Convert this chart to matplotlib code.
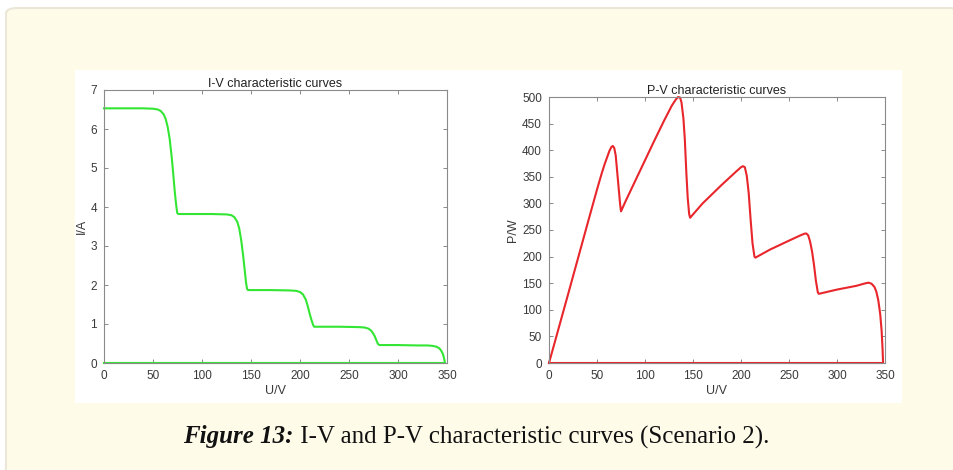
import matplotlib
matplotlib.use("Agg")
import matplotlib.pyplot as plt
from matplotlib.patches import FancyBboxPatch, Rectangle

# ---- data ----
u_iv = [0, 20, 40, 50, 55, 58, 61, 63, 65, 67, 69, 70.5, 72, 73, 74, 74.8, 76, 90, 110,
        125, 130, 133, 136, 138, 140, 142, 143.5, 145, 146, 147, 150, 170, 190, 196, 200,
        203, 206, 208, 210, 212, 213.5, 214.5, 216, 240, 260, 266, 270, 273, 276, 278,
        279.5, 281, 300, 320, 330, 335, 339, 342, 344, 346, 347, 348, 0]
i_iv = [6.53, 6.53, 6.53, 6.52, 6.50, 6.46, 6.37, 6.25, 6.05, 5.75, 5.3, 4.9, 4.45, 4.2,
        3.98, 3.84, 3.82, 3.82, 3.82, 3.81, 3.79, 3.74, 3.62, 3.45, 3.15, 2.75, 2.4, 2.05,
        1.9, 1.87, 1.87, 1.87, 1.86, 1.85, 1.82, 1.76, 1.62, 1.45, 1.25, 1.08, 0.97, 0.93,
        0.93, 0.93, 0.92, 0.91, 0.88, 0.82, 0.70, 0.58, 0.49, 0.46, 0.46, 0.45, 0.45, 0.44,
        0.42, 0.38, 0.32, 0.22, 0.12, 0.0, 0.0]

u_pv = [0, 20, 40, 50, 55, 58, 61, 63, 65, 66.5, 68, 69.5, 71, 72.5, 74, 75, 80, 90, 100,
        110, 120, 128, 132, 134.5, 136.5, 138, 140, 141.5, 143, 144.5, 146, 147, 160, 180,
        195, 200, 202, 204, 206, 208, 210, 212, 214, 215, 230, 250, 262, 266, 268, 270, 272,
        274, 276, 278, 280, 281, 300, 320, 330, 333, 336, 339, 341, 343, 345, 346.5, 347.5,
        348, 0]
p_pv = [0, 130, 261, 326, 357, 374, 389, 399, 406, 408, 404, 390, 360, 330, 300, 285, 305,
        343, 381, 419, 456, 484, 495, 500, 499, 490, 460, 420, 360, 310, 280, 273, 300, 335,
        360, 368, 370, 368, 352, 320, 270, 225, 200, 198, 213, 230, 240, 243, 243.5, 240,
        228, 210, 185, 155, 133, 130, 138, 145, 150, 151, 149, 143, 134, 118, 92, 60, 25,
        0, 0]

x_ticks = [0, 50, 100, 150, 200, 250, 300, 350]
iv_yticks = [0, 1, 2, 3, 4, 5, 6, 7]
pv_yticks = [0, 50, 100, 150, 200, 250, 300, 350, 400, 450, 500]

W, H = 954, 470
fig = plt.figure(figsize=(W / 100, H / 100), dpi=100)
fig.patch.set_facecolor("white")

def fx(px):
    return px / W

def fy(py):
    return 1 - py / H

# page box (cream with rounded border)
box = FancyBboxPatch((fx(6), fy(480)), fx(960) - fx(6), fy(8) - fy(480),
                     boxstyle="round,pad=0,rounding_size=0.012",
                     transform=fig.transFigure, facecolor="#fefbe9",
                     edgecolor="#ebe7d8", linewidth=1.5, zorder=-3)
fig.patches.append(box)
# white image panel
panel = Rectangle((fx(75), fy(403)), fx(902) - fx(75), fy(70) - fy(403),
                  transform=fig.transFigure, facecolor="white", edgecolor="none", zorder=-2)
fig.patches.append(panel)

font = "Liberation Sans"
txt_col = "#3a3a3a"
spine_col = "#8a8a8a"

def style(ax, yticks, ylim, title, ylabel):
    ax.set_xlim(0, 350)
    ax.set_ylim(*ylim)
    ax.set_xticks(x_ticks)
    ax.set_yticks(yticks)
    ax.tick_params(direction="in", length=3, width=0.7, colors=spine_col,
                   labelcolor=txt_col, labelsize=8.5, top=True, right=True, pad=5)
    for lab in ax.get_xticklabels() + ax.get_yticklabels():
        lab.set_fontfamily(font)
    for s in ax.spines.values():
        s.set_color(spine_col)
        s.set_linewidth(0.8)
    ax.set_title(title, fontsize=9, family=font, color="#222222", pad=2)
    ax.set_xlabel("U/V", fontsize=9, family=font, color=txt_col, labelpad=2)
    ax.set_ylabel(ylabel, fontsize=9, family=font, color=txt_col, labelpad=2)
    ax.set_facecolor("white")

ax1 = fig.add_axes([fx(104), fy(363), fx(447) - fx(104), fy(90) - fy(363)])
ax1.plot(u_iv, i_iv, color="#33e633", linewidth=1.5, clip_on=False)
style(ax1, iv_yticks, (0, 7), "I-V characteristic curves", "I/A")

ax2 = fig.add_axes([fx(549), fy(363), fx(885) - fx(549), fy(97) - fy(363)])
ax2.plot(u_pv, p_pv, color="#e8262b", linewidth=1.5, clip_on=False)
style(ax2, pv_yticks, (0, 500), "P-V characteristic curves", "P/W")

# caption
fig.canvas.draw()
r = fig.canvas.get_renderer()
cap_fs = 18
t1 = fig.text(0, fy(437), "Figure 13:", fontsize=cap_fs, family="Liberation Serif",
              weight="bold", style="italic", va="center", ha="left", color="#111111")
t2 = fig.text(0, fy(437), " I-V and P-V characteristic curves (Scenario 2).", fontsize=cap_fs,
              family="Liberation Serif", va="center", ha="left", color="#111111")
w1 = t1.get_window_extent(r).width
w2 = t2.get_window_extent(r).width
start = 476 - (w1 + w2) / 2
t1.set_x(fx(start))
t2.set_x(fx(start + w1))

fig.savefig("out.png", dpi=100, facecolor=fig.get_facecolor())
